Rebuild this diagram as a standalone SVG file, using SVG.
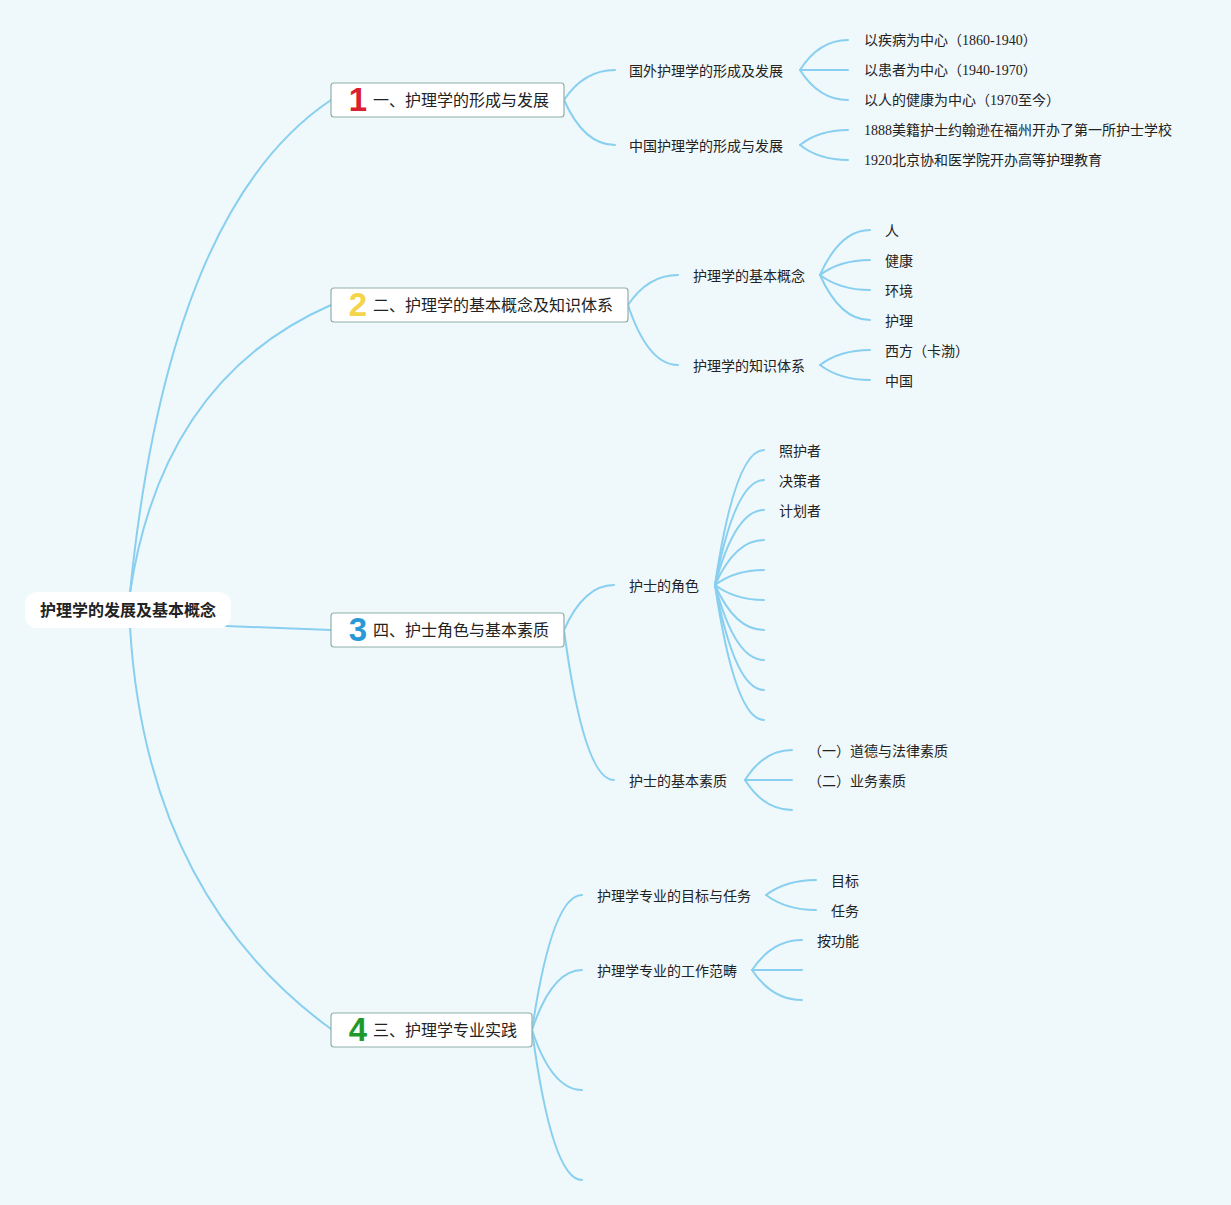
<svg xmlns="http://www.w3.org/2000/svg" width="1231" height="1205" viewBox="0 0 1231 1205">
<style>
.bg{fill:#eff8fb}
.ln{fill:none;stroke:#88cff0;stroke-width:2;stroke-linecap:round}
.box{fill:#ffffff;stroke:#8fb0aa;stroke-width:1.2}
.root{fill:#ffffff}
.t{font-family:'Noto Sans CJK SC','Noto Sans',sans-serif;fill:#222;dominant-baseline:central}
.rt{font-size:16px;font-weight:bold}
.bt{font-size:16px}
.st{font-size:14px}
.mix{font-family:'Liberation Serif','Noto Sans CJK SC',serif}
.num{font-family:'Liberation Sans','DejaVu Sans',sans-serif;font-weight:bold;font-size:33px;text-anchor:middle;dominant-baseline:central}
</style>
<rect class="bg" x="0" y="0" width="1231" height="1205"/>
<g id="connectors">
<path class="ln" d="M130 593 Q168 209 331 100"/>
<path class="ln" d="M130 593 Q162 379 331 305"/>
<path class="ln" d="M226 626 Q280 628 331 630"/>
<path class="ln" d="M130 627 Q146 894 331 1029"/>
<path class="ln" d="M564 100 Q584 70 615 70"/>
<path class="ln" d="M564 100 Q584 145 615 145"/>
<path class="ln" d="M800 70 Q819 40 848 40"/>
<path class="ln" d="M800 70 L848 70"/>
<path class="ln" d="M800 70 Q819 100 848 100"/>
<path class="ln" d="M800 145 Q819 130 848 130"/>
<path class="ln" d="M800 145 Q819 160 848 160"/>
<path class="ln" d="M628 305 Q648 275 678 275"/>
<path class="ln" d="M628 305 Q648 365 678 365"/>
<path class="ln" d="M820 275 Q840 230 870 230"/>
<path class="ln" d="M820 275 Q840 260 870 260"/>
<path class="ln" d="M820 275 Q840 290 870 290"/>
<path class="ln" d="M820 275 Q840 320 870 320"/>
<path class="ln" d="M820 365 Q840 350 870 350"/>
<path class="ln" d="M820 365 Q840 380 870 380"/>
<path class="ln" d="M564 630 Q584 585 614 585"/>
<path class="ln" d="M564 630 Q584 780 614 780"/>
<path class="ln" d="M715 585 Q735 450 764 450"/>
<path class="ln" d="M715 585 Q735 480 764 480"/>
<path class="ln" d="M715 585 Q735 510 764 510"/>
<path class="ln" d="M715 585 Q735 540 764 540"/>
<path class="ln" d="M715 585 Q735 570 764 570"/>
<path class="ln" d="M715 585 Q735 600 764 600"/>
<path class="ln" d="M715 585 Q735 630 764 630"/>
<path class="ln" d="M715 585 Q735 660 764 660"/>
<path class="ln" d="M715 585 Q735 690 764 690"/>
<path class="ln" d="M715 585 Q735 720 764 720"/>
<path class="ln" d="M745 780 Q764 750 792 750"/>
<path class="ln" d="M745 780 L792 780"/>
<path class="ln" d="M745 780 Q764 810 792 810"/>
<path class="ln" d="M532 1030 Q552 895 582 895"/>
<path class="ln" d="M532 1030 Q552 970 582 970"/>
<path class="ln" d="M532 1030 Q552 1090 582 1090"/>
<path class="ln" d="M532 1030 Q552 1180 582 1180"/>
<path class="ln" d="M766 895 Q786 880 816 880"/>
<path class="ln" d="M766 895 Q786 910 816 910"/>
<path class="ln" d="M752 970 Q772 940 802 940"/>
<path class="ln" d="M752 970 L802 970"/>
<path class="ln" d="M752 970 Q772 1000 802 1000"/>
</g>
<g id="root">
<rect class="root" x="25" y="592" width="206" height="36" rx="12"/>
<text class="t rt" x="128" y="609" text-anchor="middle">护理学的发展及基本概念</text>
</g>
<g id="b1">
<rect class="box" x="331" y="83" width="233" height="34" rx="3"/>
<text class="num" x="358" y="99" fill="#d9202e">1</text>
<text class="t bt" x="373" y="99">一、护理学的形成与发展</text>
</g>
<g id="b2">
<rect class="box" x="331" y="288" width="297" height="34" rx="3"/>
<text class="num" x="358" y="304" fill="#f3d44a">2</text>
<text class="t bt" x="373" y="304">二、护理学的基本概念及知识体系</text>
</g>
<g id="b3">
<rect class="box" x="331" y="613" width="233" height="34" rx="3"/>
<text class="num" x="358" y="629" fill="#2b98d6">3</text>
<text class="t bt" x="373" y="629">四、护士角色与基本素质</text>
</g>
<g id="b4">
<rect class="box" x="331" y="1013" width="201" height="34" rx="3"/>
<text class="num" x="358" y="1029" fill="#1f9a2a">4</text>
<text class="t bt" x="373" y="1029">三、护理学专业实践</text>
</g>
<g id="n1a"><text class="t st" x="629" y="70">国外护理学的形成及发展</text></g>
<g id="n1b"><text class="t st" x="629" y="145">中国护理学的形成与发展</text></g>
<g id="n1a1"><text class="t st mix" x="864" y="40">以疾病为中心（1860-1940）</text></g>
<g id="n1a2"><text class="t st mix" x="864" y="70">以患者为中心（1940-1970）</text></g>
<g id="n1a3"><text class="t st mix" x="864" y="100">以人的健康为中心（1970至今）</text></g>
<g id="n1b1"><text class="t st mix" x="864" y="130">1888美籍护士约翰逊在福州开办了第一所护士学校</text></g>
<g id="n1b2"><text class="t st mix" x="864" y="160">1920北京协和医学院开办高等护理教育</text></g>
<g id="n2a"><text class="t st" x="693" y="275">护理学的基本概念</text></g>
<g id="n2b"><text class="t st" x="693" y="365">护理学的知识体系</text></g>
<g id="n2a1"><text class="t st" x="885" y="230">人</text></g>
<g id="n2a2"><text class="t st" x="885" y="260">健康</text></g>
<g id="n2a3"><text class="t st" x="885" y="290">环境</text></g>
<g id="n2a4"><text class="t st" x="885" y="320">护理</text></g>
<g id="n2b1"><text class="t st" x="885" y="350">西方（卡渤）</text></g>
<g id="n2b2"><text class="t st" x="885" y="380">中国</text></g>
<g id="n3a"><text class="t st" x="629" y="585">护士的角色</text></g>
<g id="n3b"><text class="t st" x="629" y="780">护士的基本素质</text></g>
<g id="n3a1"><text class="t st" x="779" y="450">照护者</text></g>
<g id="n3a2"><text class="t st" x="779" y="480">决策者</text></g>
<g id="n3a3"><text class="t st" x="779" y="510">计划者</text></g>
<g id="n3b1"><text class="t st" x="808" y="750">（一）道德与法律素质</text></g>
<g id="n3b2"><text class="t st" x="808" y="780">（二）业务素质</text></g>
<g id="n4a"><text class="t st" x="597" y="895">护理学专业的目标与任务</text></g>
<g id="n4b"><text class="t st" x="597" y="970">护理学专业的工作范畴</text></g>
<g id="n4a1"><text class="t st" x="831" y="880">目标</text></g>
<g id="n4a2"><text class="t st" x="831" y="910">任务</text></g>
<g id="n4b1"><text class="t st" x="817" y="940">按功能</text></g>
</svg>
